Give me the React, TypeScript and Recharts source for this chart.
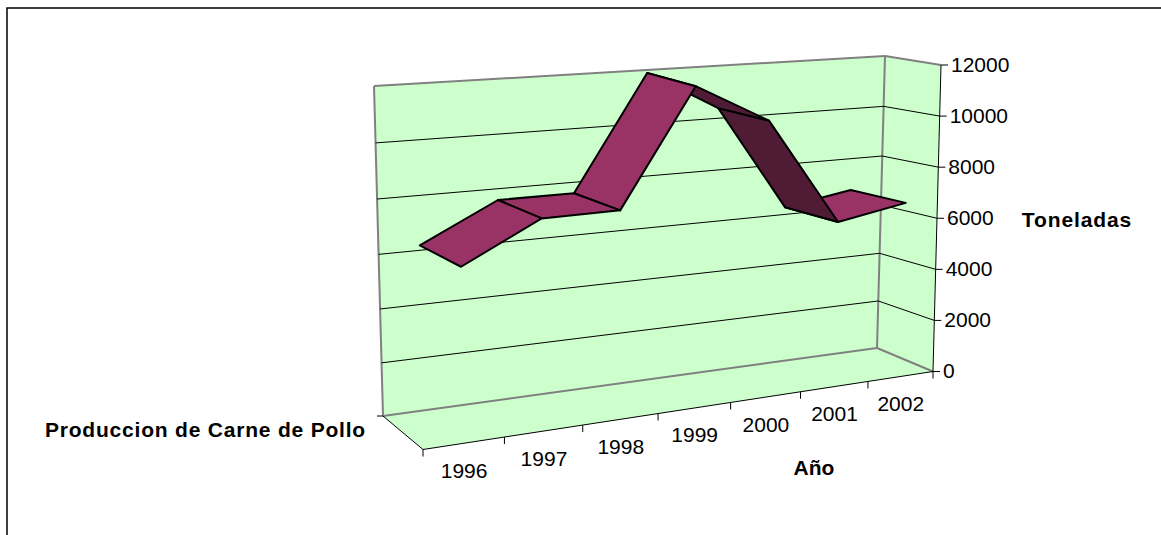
import { LineChart, Line, XAxis, YAxis, Customized, ReferenceLine } from 'recharts';

const YEARS = ['1996', '1997', '1998', '1999', '2000', '2001', '2002'];
const TONNES = [6200, 7600, 7600, 11900, 10400, 6300, 6750];
const VALUE_TICKS = [0, 2000, 4000, 6000, 8000, 10000, 12000];
const GRID_VALUES = [2000, 4000, 6000, 8000, 10000];

const chartData = YEARS.map((year, i) => ({ year, tonnes: TONNES[i] }));

const WIDTH = 1161;
const HEIGHT = 535;
const AXIS_W = 100;
const AXIS_H = 50;
const FONT = '"Liberation Sans", Arial, sans-serif';

// corners of the 3d box as they land on the page
const BOX = {
  backBottomLeft: [383, 416],
  backBottomRight: [877, 348],
  backTopLeft: [374, 86],
  backTopRight: [885, 56],
  frontBottomLeft: [423, 449.5],
  frontBottomRight: [933, 371.5],
  frontTopLeft: [414, 104],
  frontTopRight: [941, 65],
};
const FORESHORTEN = 1.14;
const BACK_WALL_RISE = 0.96;
const RIBBON_BACK = 0.02;
const RIBBON_FRONT = 1.02;

const lerp = (a: number, b: number, t: number) => a + (b - a) * t;
const lerp2 = (a: number[], b: number[], t: number) => [lerp(a[0], b[0], t), lerp(a[1], b[1], t)];

// u along the years, v up the values, d from back wall to front
function project(u: number, v: number, d: number) {
  const w = (FORESHORTEN * u) / (1 + (FORESHORTEN - 1) * u);
  const rise = lerp(BACK_WALL_RISE, 1, d);
  const h = (rise * v) / (1 + (rise - 1) * v);
  const backBottom = lerp2(BOX.backBottomLeft, BOX.backBottomRight, w);
  const backTop = lerp2(BOX.backTopLeft, BOX.backTopRight, w);
  const frontBottom = lerp2(BOX.frontBottomLeft, BOX.frontBottomRight, w);
  const frontTop = lerp2(BOX.frontTopLeft, BOX.frontTopRight, w);
  return lerp2(lerp2(backBottom, backTop, h), lerp2(frontBottom, frontTop, h), d);
}

const plotU = (x: number) => (x - AXIS_W) / (WIDTH - AXIS_W);
const plotV = (y: number) => (HEIGHT - AXIS_H - y) / (HEIGHT - AXIS_H);
const poly = (pts: number[][]) => pts.map((p) => p.join(',')).join(' ');

function Walls() {
  const b = BOX;
  const edge = (p: number[], q: number[], key: string) => (
    <line key={key} x1={p[0]} y1={p[1]} x2={q[0]} y2={q[1]} stroke="#808080" strokeWidth={2} />
  );
  return (
    <g>
      <polyline points="7,535 7,8 1161,8" fill="none" stroke="#000" strokeWidth={1.5} />
      <polygon points={poly([b.backBottomLeft, b.backBottomRight, b.backTopRight, b.backTopLeft])} fill="#ccffcc" />
      <polygon points={poly([b.backBottomRight, b.frontBottomRight, b.frontTopRight, b.backTopRight])} fill="#ccffcc" />
      <polygon points={poly([b.backBottomLeft, b.frontBottomLeft, b.frontBottomRight, b.backBottomRight])} fill="#ccffcc" />
      {edge(b.backTopLeft, b.backTopRight, 'top')}
      {edge(b.backTopLeft, b.backBottomLeft, 'left')}
      {edge(b.backBottomLeft, b.backBottomRight, 'bottom')}
      {edge(b.backTopRight, b.backBottomRight, 'corner')}
      {edge(b.backTopRight, b.frontTopRight, 'sideTop')}
      {edge(b.backBottomRight, b.frontBottomRight, 'sideBottom')}
      <line x1={b.backBottomLeft[0]} y1={b.backBottomLeft[1]} x2={b.frontBottomLeft[0]} y2={b.frontBottomLeft[1]} stroke="#000" />
      <line x1={b.frontBottomLeft[0]} y1={b.frontBottomLeft[1]} x2={b.frontBottomRight[0]} y2={b.frontBottomRight[1]} stroke="#000" />
      <line x1={b.frontBottomRight[0]} y1={b.frontBottomRight[1]} x2={b.frontTopRight[0]} y2={b.frontTopRight[1]} stroke="#000" />
      <line x1={b.backBottomLeft[0] - 6} y1={b.backBottomLeft[1]} x2={b.backBottomLeft[0]} y2={b.backBottomLeft[1]} stroke="#000" />
      <text x={366} y={431} textAnchor="end" dominantBaseline="middle" fontFamily={FONT} fontSize={21} fontWeight="bold" letterSpacing={0.8}>
        Produccion de Carne de Pollo
      </text>
      <text x={1077} y={221} textAnchor="middle" dominantBaseline="middle" fontFamily={FONT} fontSize={21} fontWeight="bold" letterSpacing={0.9}>
        Toneladas
      </text>
      <text x={814} y={469} textAnchor="middle" dominantBaseline="middle" fontFamily={FONT} fontSize={21} fontWeight="bold">
        Año
      </text>
    </g>
  );
}

function GridBend(props: any) {
  const v = plotV(props.y1);
  const a = project(0, v, 0);
  const b = project(1, v, 0);
  const c = project(1, v, 1);
  return <polyline points={poly([a, b, c])} fill="none" stroke="#000" strokeWidth={1} />;
}

function YearTick(props: any) {
  const { x, index } = props;
  const u = plotU(x);
  const [lx, ly] = project(u, 0, 1);
  const band = 1 / YEARS.length;
  const [tx, ty] = project(u - band / 2, 0, 1);
  const last = index === YEARS.length - 1 ? project(u + band / 2, 0, 1) : null;
  return (
    <g>
      <line x1={tx} y1={ty} x2={tx} y2={ty + 7} stroke="#000" />
      {last && <line x1={last[0]} y1={last[1]} x2={last[0]} y2={last[1] + 7} stroke="#000" />}
      <text x={lx} y={ly + 29} textAnchor="middle" dominantBaseline="middle" fontFamily={FONT} fontSize={21} fill="#000">
        {props.payload.value}
      </text>
    </g>
  );
}

function ValueTick(props: any) {
  // payload.coordinate, since props.y gets nudged to keep the top label in view
  const [x, y] = project(1, plotV(props.payload.coordinate), 1);
  return (
    <g>
      <line x1={x} y1={y} x2={x + 7} y2={y} stroke="#000" />
      <text x={x + 10} y={y + 1} dominantBaseline="middle" fontFamily={FONT} fontSize={21} fill="#000">
        {props.payload.value}
      </text>
    </g>
  );
}

function Ribbon(props: any) {
  const points = props.points ?? [];
  const segments = [];
  // nearest years go on top, as the old 3d renderer paints them
  for (let i = points.length - 2; i >= 0; i--) {
    const p = points[i];
    const q = points[i + 1];
    const corners = [
      project(plotU(p.x), plotV(p.y), RIBBON_BACK),
      project(plotU(p.x), plotV(p.y), RIBBON_FRONT),
      project(plotU(q.x), plotV(q.y), RIBBON_FRONT),
      project(plotU(q.x), plotV(q.y), RIBBON_BACK),
    ];
    const falling = TONNES[i + 1] < TONNES[i];
    segments.push(
      <polygon
        key={i}
        points={poly(corners)}
        fill={falling ? '#4f1b35' : '#993366'}
        stroke="#000"
        strokeWidth={2}
        strokeLinejoin="round"
      />,
    );
  }
  return <g>{segments}</g>;
}

export default function App() {
  return (
    <div style={{ position: 'absolute', left: 0, top: 0, width: WIDTH, height: HEIGHT, overflow: 'hidden' }}>
      <LineChart width={WIDTH} height={HEIGHT} data={chartData} margin={{ top: 0, right: 0, bottom: 0, left: 0 }}>
        <Customized component={Walls} />
        <XAxis dataKey="year" scale="band" height={AXIS_H} axisLine={false} tickLine={false} interval={0} tick={YearTick} />
        <YAxis width={AXIS_W} domain={[0, 12000]} ticks={VALUE_TICKS} axisLine={false} tickLine={false} tick={ValueTick} />
        {GRID_VALUES.map((value) => (
          <ReferenceLine key={value} y={value} shape={GridBend} />
        ))}
        <Line dataKey="tonnes" isAnimationActive={false} dot={false} shape={Ribbon} />
      </LineChart>
    </div>
  );
}
